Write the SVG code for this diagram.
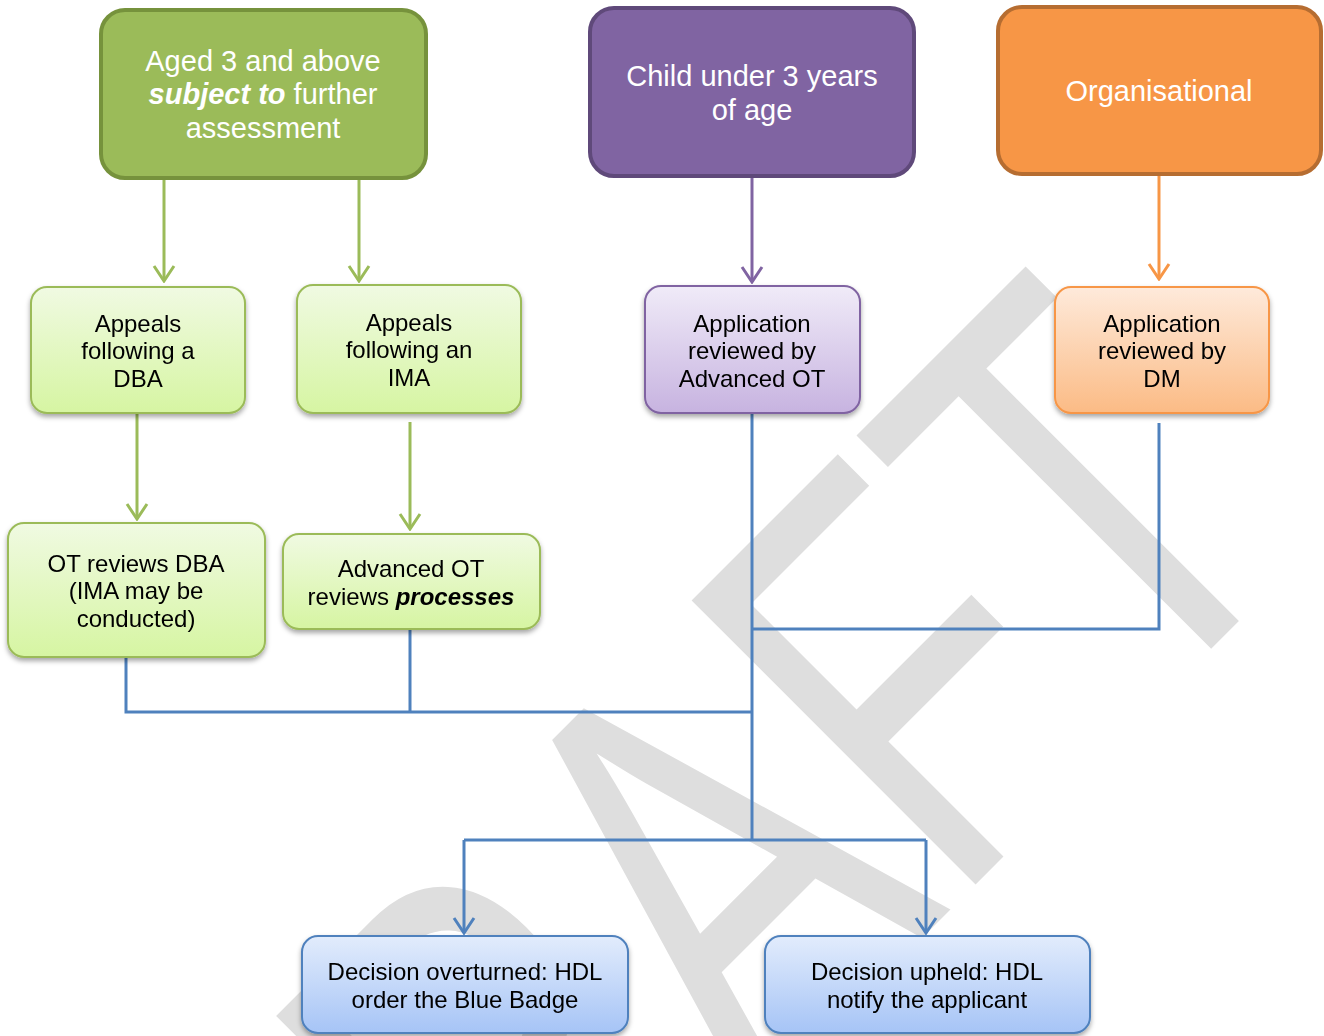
<svg xmlns="http://www.w3.org/2000/svg" width="1324" height="1036" viewBox="0 0 1324 1036">
<defs>
<style>
text{font-family:"Liberation Sans",Arial,sans-serif;text-anchor:middle}
.hd{font-size:29px;fill:#ffffff}
.bd{font-size:24px;fill:#000000}
.bi{font-weight:bold;font-style:italic}
.wm{font-size:423px;fill:#dedede}
.ln{fill:none;stroke-width:3}
.g{stroke:#9bbb59}
.p{stroke:#8064a2}
.o{stroke:#f79646}
.b{stroke:#4f81bd}
</style>
<linearGradient id="gG" x1="0" y1="0" x2="0" y2="1"><stop offset="0" stop-color="#f0fae2"/><stop offset="1" stop-color="#d6f5a2"/></linearGradient>
<linearGradient id="gP" x1="0" y1="0" x2="0" y2="1"><stop offset="0" stop-color="#f0ebf8"/><stop offset="1" stop-color="#c7b3e0"/></linearGradient>
<linearGradient id="gO" x1="0" y1="0" x2="0" y2="1"><stop offset="0" stop-color="#feeadb"/><stop offset="1" stop-color="#fbbb85"/></linearGradient>
<linearGradient id="gB" x1="0" y1="0" x2="0" y2="1"><stop offset="0" stop-color="#e2ecfc"/><stop offset="1" stop-color="#a6c4f6"/></linearGradient>
<filter id="sh" x="-10%" y="-10%" width="120%" height="130%"><feDropShadow dx="0" dy="3" stdDeviation="2.5" flood-color="#000" flood-opacity="0.35"/></filter>
<marker id="mG" viewBox="-17 -12 19 24" refX="0" refY="0" markerWidth="19" markerHeight="24" markerUnits="userSpaceOnUse" orient="auto"><path d="M-15,-10 L0,0 L-15,10" fill="none" stroke="#9bbb59" stroke-width="3"/></marker>
<marker id="mP" viewBox="-17 -12 19 24" refX="0" refY="0" markerWidth="19" markerHeight="24" markerUnits="userSpaceOnUse" orient="auto"><path d="M-15,-10 L0,0 L-15,10" fill="none" stroke="#8064a2" stroke-width="3"/></marker>
<marker id="mO" viewBox="-17 -12 19 24" refX="0" refY="0" markerWidth="19" markerHeight="24" markerUnits="userSpaceOnUse" orient="auto"><path d="M-15,-10 L0,0 L-15,10" fill="none" stroke="#f79646" stroke-width="3"/></marker>
<marker id="mB" viewBox="-17 -12 19 24" refX="0" refY="0" markerWidth="19" markerHeight="24" markerUnits="userSpaceOnUse" orient="auto"><path d="M-15,-10 L0,0 L-15,10" fill="none" stroke="#4f81bd" stroke-width="3"/></marker>
</defs>
<rect width="1324" height="1036" fill="#ffffff"/>
<g id="watermark"><text class="wm" transform="translate(818,1042) rotate(-45) scale(1,1.38)">DRAFT</text></g>
<g id="connectors">
<path class="ln g" d="M164,179 V281" marker-end="url(#mG)"/>
<path class="ln g" d="M359,179 V281" marker-end="url(#mG)"/>
<path class="ln g" d="M137,413 V519" marker-end="url(#mG)"/>
<path class="ln g" d="M410,422 V529" marker-end="url(#mG)"/>
<path class="ln p" d="M752,177 V282" marker-end="url(#mP)"/>
<path class="ln o" d="M1159,175 V279" marker-end="url(#mO)"/>
<path class="ln b" d="M126,657 V712 H752"/>
<path class="ln b" d="M410,629 V712"/>
<path class="ln b" d="M752,413 V840"/>
<path class="ln b" d="M1159,423 V629 H752"/>
<path class="ln b" d="M464,840 H926"/>
<path class="ln b" d="M464,840 V933" marker-end="url(#mB)"/>
<path class="ln b" d="M926,840 V933" marker-end="url(#mB)"/>
</g>
<g id="aged3">
<rect x="101" y="10" width="325" height="168" rx="24" fill="#9bbb59" stroke="#76923c" stroke-width="4"/>
<text class="hd" x="263" y="71">Aged 3 and above</text>
<text class="hd" x="263" y="104"><tspan class="bi">subject to</tspan> further</text>
<text class="hd" x="263" y="138">assessment</text>
</g>
<g id="child">
<rect x="590" y="8" width="324" height="168" rx="24" fill="#8064a2" stroke="#5f497a" stroke-width="4"/>
<text class="hd" x="752" y="86">Child under 3 years</text>
<text class="hd" x="752" y="120">of age</text>
</g>
<g id="org">
<rect x="998" y="7" width="323" height="167" rx="24" fill="#f79646" stroke="#b66d31" stroke-width="4"/>
<text class="hd" x="1159" y="101">Organisational</text>
</g>
<g id="appealsDBA" filter="url(#sh)">
<rect x="31" y="287" width="214" height="126" rx="16" fill="url(#gG)" stroke="#9bbb59" stroke-width="2"/>
<text class="bd" x="138" y="332">Appeals</text>
<text class="bd" x="138" y="359">following a</text>
<text class="bd" x="138" y="387">DBA</text>
</g>
<g id="appealsIMA" filter="url(#sh)">
<rect x="297" y="285" width="224" height="128" rx="16" fill="url(#gG)" stroke="#9bbb59" stroke-width="2"/>
<text class="bd" x="409" y="331">Appeals</text>
<text class="bd" x="409" y="358">following an</text>
<text class="bd" x="409" y="386">IMA</text>
</g>
<g id="appAdvOT" filter="url(#sh)">
<rect x="645" y="286" width="215" height="127" rx="16" fill="url(#gP)" stroke="#8064a2" stroke-width="2"/>
<text class="bd" x="752" y="332">Application</text>
<text class="bd" x="752" y="359">reviewed by</text>
<text class="bd" x="752" y="387">Advanced OT</text>
</g>
<g id="appDM" filter="url(#sh)">
<rect x="1055" y="287" width="214" height="126" rx="16" fill="url(#gO)" stroke="#f79646" stroke-width="2"/>
<text class="bd" x="1162" y="332">Application</text>
<text class="bd" x="1162" y="359">reviewed by</text>
<text class="bd" x="1162" y="387">DM</text>
</g>
<g id="otReviews" filter="url(#sh)">
<rect x="8" y="523" width="257" height="134" rx="16" fill="url(#gG)" stroke="#9bbb59" stroke-width="2"/>
<text class="bd" x="136" y="572">OT reviews DBA</text>
<text class="bd" x="136" y="599">(IMA may be</text>
<text class="bd" x="136" y="627">conducted)</text>
</g>
<g id="advOTReviews" filter="url(#sh)">
<rect x="283" y="534" width="257" height="95" rx="16" fill="url(#gG)" stroke="#9bbb59" stroke-width="2"/>
<text class="bd" x="411" y="577">Advanced OT</text>
<text class="bd" x="411" y="605">reviews <tspan class="bi">processes</tspan></text>
</g>
<g id="overturned" filter="url(#sh)">
<rect x="302" y="936" width="326" height="97" rx="16" fill="url(#gB)" stroke="#4f81bd" stroke-width="2"/>
<text class="bd" x="465" y="980">Decision overturned: HDL</text>
<text class="bd" x="465" y="1008">order the Blue Badge</text>
</g>
<g id="upheld" filter="url(#sh)">
<rect x="765" y="936" width="325" height="97" rx="16" fill="url(#gB)" stroke="#4f81bd" stroke-width="2"/>
<text class="bd" x="927" y="980">Decision upheld: HDL</text>
<text class="bd" x="927" y="1008">notify the applicant</text>
</g>
</svg>
